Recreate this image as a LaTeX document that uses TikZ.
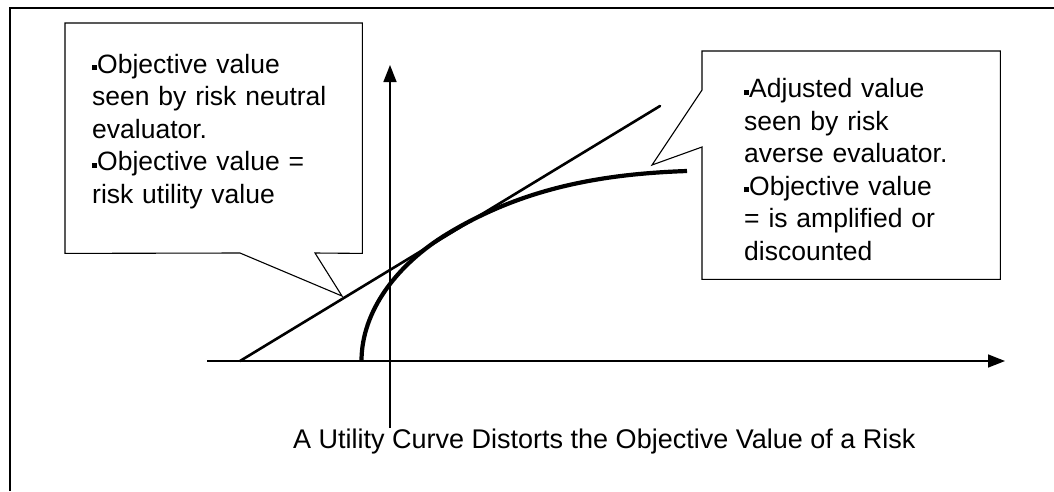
\documentclass[tikz,border=0pt]{standalone}
\usepackage{fontspec}
\setmainfont{Liberation Sans}
\usetikzlibrary{arrows.meta}
\newcommand\bul{\rule[3pt]{5pt}{5pt}}
\begin{document}
\begin{tikzpicture}[x=1pt,y=-1pt,
  frame/.style={line width=2pt},
  axisline/.style={line width=1.5pt,-{Triangle[length=17pt,width=13pt]}},
  callout/.style={line width=1.1pt,line join=miter},
  boxnode/.style={minimum width=#1,inner sep=0pt,anchor=north west},
  bubbletext/.style={inner sep=0pt,anchor=base west,align=left,text width=280pt,
    font=\fontsize{26.5pt}{32.6pt}\selectfont},
  captiontext/.style={inner sep=0pt,anchor=base west,font=\fontsize{27pt}{32pt}\selectfont},
  tangent/.style={line width=2.6pt,line cap=round},
  utility/.style={line width=4.2pt}
]
\useasboundingbox (0,0) rectangle (1054,491);
% frame
\draw[frame] (10,491) -- (10,8) -- (1054,8);

% left callout
\node[boxnode=297pt,minimum height=230pt] (lbox) at (65,23) {};
\coordinate (lpa) at (240,253);
\coordinate (lpb) at (315,253);
\coordinate (ltip) at (342,296);
\draw[callout] (lbox.south west) -- (lbox.north west) -- (lbox.north east) -- (lbox.south east) -- (lpb) -- (ltip) -- (lpa) -- cycle;
\node[bubbletext] (ltxt) at (92,73) {\bul Objective value\\seen by risk neutral\\evaluator.\\\bul Objective value =\\risk utility value};

% right callout
\node[boxnode=298pt,minimum height=228pt] (rbox) at (702,51) {};
\coordinate (rpa) at (702,90);
\coordinate (rpb) at (702,147);
\coordinate (rtip) at (652,165);
\draw[callout] (rbox.north west) -- (rbox.north east) -- (rbox.south east) -- (rbox.south west) -- (rpb) -- (rtip) -- (rpa) -- cycle;
\node[bubbletext] (rtxt) at (744,97.5) {\bul Adjusted value\\seen by risk\\averse evaluator.\\\bul Objective value\\= is amplified or\\discounted};

% axes
\coordinate (xs) at (207,361);
\coordinate (xe) at (1005,361);
\coordinate (ys) at (390,428);
\coordinate (ye) at (390,65);
\draw[axisline] (xs) -- (xe);
\draw[axisline] (ys) -- (ye);

% tangent line (risk neutral)
\coordinate (t0) at (240,361);
\coordinate (t1) at (660,106);
\draw[tangent] (t0) -- (t1);

% utility curve (risk averse)
\coordinate (u0) at (361.5,361);
\coordinate (u1) at (447,234);
\coordinate (u2) at (687,171);
\draw[utility] (u0) .. controls (361.5,311) and (397,264.4) .. (u1)
  .. controls (522,188.5) and (600,174) .. (u2);

% caption
\node[captiontext] (cap) at (293,448) {A Utility Curve Distorts the Objective Value of a Risk};
\end{tikzpicture}
\end{document}
